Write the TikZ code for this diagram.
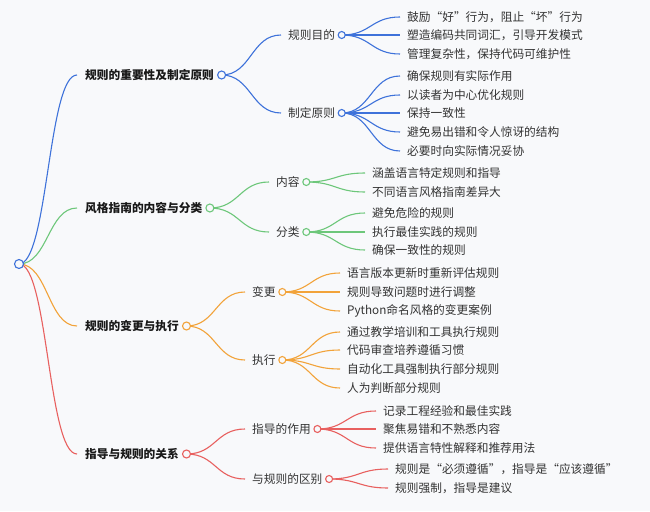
\documentclass[tikz,border=0pt]{standalone}
\usepackage{fontspec}
\setmainfont{Noto Sans CJK SC}
\usetikzlibrary{calc}
\definecolor{bg}{HTML}{F8F9FB}
\definecolor{cblue}{HTML}{3E72DA}
\definecolor{cgreen}{HTML}{6DC77A}
\definecolor{corange}{HTML}{F2A33A}
\definecolor{cred}{HTML}{E8605F}
\definecolor{txt}{HTML}{333333}
\newcommand\lnk[3]{\draw[#1,line width=1.1pt] let \p1=(#2), \p2=(#3) in (\p1) .. controls ({0.5*\x1+0.5*\x2},\y1) and ({0.5*\x1+0.5*\x2},\y2) .. (\p2);}
\newcommand\leaf[5]{\node[lbl] (#1) at (#4) {#5};\lnk{#2}{#3}{[xshift=-7pt]#1.west}}
\begin{document}
\begin{tikzpicture}[x=1pt,y=-1pt,
  lbl/.style={anchor=west,inner sep=0pt,font=\fontsize{11.7}{14}\selectfont,text=txt},
  topl/.style={anchor=west,inner sep=0pt,font=\fontsize{11.7}{14}\selectfont\bfseries,text=black!90},
  dot/.style={circle,draw=#1,fill=bg,line width=1.1pt,minimum size=7pt,inner sep=0pt},
]
\fill[bg] (0,0) rectangle (650,511);
\useasboundingbox (0,0) rectangle (650,511);
\coordinate (root) at (19,264);
% level 1
\node[topl] (A) at (85,75) {规则的重要性及制定原则};
\node[topl] (B) at (85,208) {风格指南的内容与分类};
\node[topl] (C) at (85,326) {规则的变更与执行};
\node[topl] (D) at (85,454) {指导与规则的关系};
\coordinate (cA) at ([xshift=7.5pt]A.east);
\coordinate (cB) at ([xshift=7.5pt]B.east);
\coordinate (cC) at ([xshift=7.5pt]C.east);
\coordinate (cD) at ([xshift=7.5pt]D.east);
% level 2
\node[lbl] (A1) at (288,35) {规则目的};
\node[lbl] (A2) at (288,113) {制定原则};
\node[lbl] (B1) at (276,182) {内容};
\node[lbl] (B2) at (276,232) {分类};
\node[lbl] (C1) at (252,292) {变更};
\node[lbl] (C2) at (252,360) {执行};
\node[lbl] (D1) at (252,429) {指导的作用};
\node[lbl] (D2) at (252,479) {与规则的区别};
\foreach \n in {A1,A2,B1,B2,C1,C2,D1,D2}{\coordinate (c\n) at ([xshift=6.5pt]\n.east);}
% links root -> L1
\lnk{cblue}{root}{[xshift=-8pt]A.west}
\lnk{cgreen}{root}{[xshift=-8pt]B.west}
\lnk{corange}{root}{[xshift=-8pt]C.west}
\lnk{cred}{root}{[xshift=-8pt]D.west}
% L1 -> L2
\lnk{cblue}{cA}{[xshift=-7pt]A1.west}
\lnk{cblue}{cA}{[xshift=-7pt]A2.west}
\lnk{cgreen}{cB}{[xshift=-7pt]B1.west}
\lnk{cgreen}{cB}{[xshift=-7pt]B2.west}
\lnk{corange}{cC}{[xshift=-7pt]C1.west}
\lnk{corange}{cC}{[xshift=-7pt]C2.west}
\lnk{cred}{cD}{[xshift=-7pt]D1.west}
\lnk{cred}{cD}{[xshift=-7pt]D2.west}
% leaves
\leaf{a11}{cblue}{cA1}{407,17}{鼓励“好”行为，阻止“坏”行为}
\leaf{a12}{cblue}{cA1}{407,35}{塑造编码共同词汇，引导开发模式}
\leaf{a13}{cblue}{cA1}{407,54}{管理复杂性，保持代码可维护性}
\leaf{a21}{cblue}{cA2}{407,76}{确保规则有实际作用}
\leaf{a22}{cblue}{cA2}{407,95}{以读者为中心优化规则}
\leaf{a23}{cblue}{cA2}{407,113}{保持一致性}
\leaf{a24}{cblue}{cA2}{407,132}{避免易出错和令人惊讶的结构}
\leaf{a25}{cblue}{cA2}{407,151}{必要时向实际情况妥协}
\leaf{b11}{cgreen}{cB1}{372,173}{涵盖语言特定规则和指导}
\leaf{b12}{cgreen}{cB1}{372,192}{不同语言风格指南差异大}
\leaf{b21}{cgreen}{cB2}{372,213}{避免危险的规则}
\leaf{b22}{cgreen}{cB2}{372,232}{执行最佳实践的规则}
\leaf{b23}{cgreen}{cB2}{372,250}{确保一致性的规则}
\leaf{c11}{corange}{cC1}{347,273}{语言版本更新时重新评估规则}
\leaf{c12}{corange}{cC1}{347,292}{规则导致问题时进行调整}
\leaf{c13}{corange}{cC1}{347,311}{Python命名风格的变更案例}
\leaf{c21}{corange}{cC2}{347,332}{通过教学培训和工具执行规则}
\leaf{c22}{corange}{cC2}{347,350}{代码审查培养遵循习惯}
\leaf{c23}{corange}{cC2}{347,369}{自动化工具强制执行部分规则}
\leaf{c24}{corange}{cC2}{347,388}{人为判断部分规则}
\leaf{d11}{cred}{cD1}{383,411}{记录工程经验和最佳实践}
\leaf{d12}{cred}{cD1}{383,429}{聚焦易错和不熟悉内容}
\leaf{d13}{cred}{cD1}{383,448}{提供语言特性解释和推荐用法}
\leaf{d21}{cred}{cD2}{395,469}{规则是“必须遵循”，指导是“应该遵循”}
\leaf{d22}{cred}{cD2}{395,488}{规则强制，指导是建议}
% circles
\node[dot=cblue,minimum size=9pt] (rootdot) at (root) {};
\node[dot=cblue,minimum size=8pt] (Adot) at (cA) {};
\node[dot=cgreen,minimum size=8pt] (Bdot) at (cB) {};
\node[dot=corange,minimum size=8pt] (Cdot) at (cC) {};
\node[dot=cred,minimum size=8pt] (Ddot) at (cD) {};
\node[dot=cblue] (A1dot) at (cA1) {};
\node[dot=cblue] (A2dot) at (cA2) {};
\node[dot=cgreen] (B1dot) at (cB1) {};
\node[dot=cgreen] (B2dot) at (cB2) {};
\node[dot=corange] (C1dot) at (cC1) {};
\node[dot=corange] (C2dot) at (cC2) {};
\node[dot=cred] (D1dot) at (cD1) {};
\node[dot=cred] (D2dot) at (cD2) {};
\end{tikzpicture}
\end{document}
